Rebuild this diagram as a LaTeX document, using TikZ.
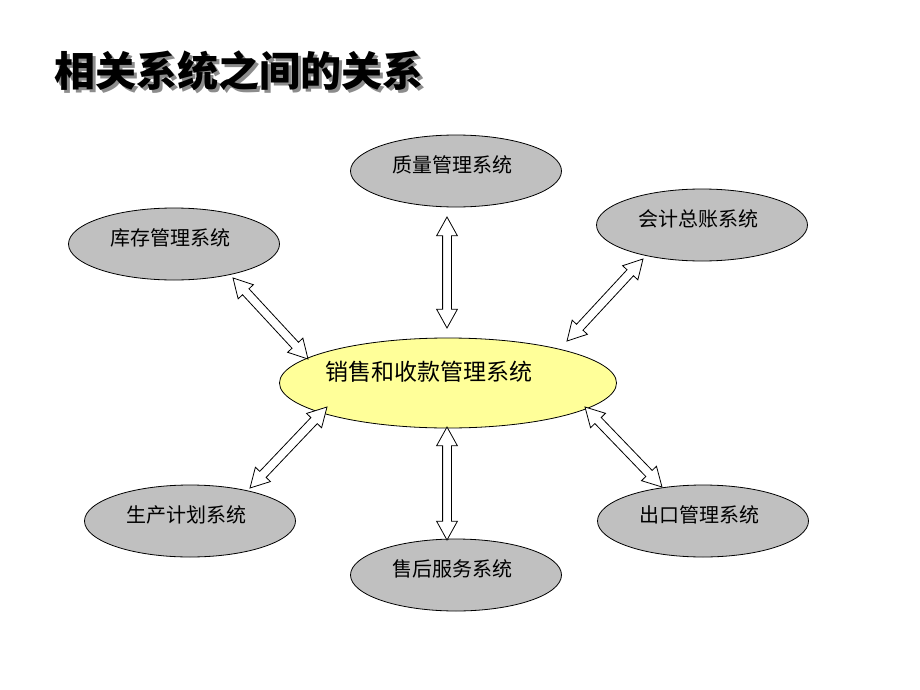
\documentclass[tikz,border=0pt]{standalone}
\usepackage{fontspec}
\newfontfamily\cjk{Noto Sans CJK SC}
\usetikzlibrary{shapes.geometric,shapes.arrows,calc}
\definecolor{sysgray}{RGB}{192,192,192}
\definecolor{sysyellow}{RGB}{255,255,153}
\tikzset{
  sys/.style={ellipse,draw,line width=.8pt,fill=sysgray,inner sep=0pt,
    minimum width=211pt,minimum height=72pt,
    label={[font=\cjk\fontsize{20pt}{24pt}\selectfont,xshift=-4pt,yshift=6pt]center:#1}},
  link/.style={double arrow,draw,line width=.8pt,fill=white,inner sep=0pt,
    inner ysep=4pt,minimum width=20pt,double arrow head extend=6pt,
    double arrow tip angle=58},
  headline/.style={anchor=west,inner sep=0pt,
    font=\cjk\bfseries\fontsize{41pt}{48pt}\selectfont}
}
\begin{document}
\begin{tikzpicture}[x=1pt,y=-1pt]
\useasboundingbox (0,0) rectangle (920,690);
% title
\node[headline,text=black!45] (shade) at (57,74) {相关系统之间的关系};
\node[headline] (title) at (54,71) {相关系统之间的关系};
% systems
\node[sys=质量管理系统] (zl) at (456,171) {};
\node[sys=库存管理系统] (kc) at (174,244) {};
\node[sys=会计总账系统] (kj) at (702,225) {};
\node[sys=生产计划系统] (sc) at (190,521) {};
\node[sys=售后服务系统] (sh) at (456,575) {};
\node[sys=出口管理系统] (ck) at (703,521) {};
\node[ellipse,draw,line width=.8pt,fill=sysyellow,inner sep=0pt,
  minimum width=337pt,minimum height=90pt,
  label={[font=\cjk\fontsize{23pt}{27pt}\selectfont,xshift=-19pt,yshift=11pt]center:销售和收款管理系统}]
  (xs) at (448,383) {};
% arrow ends
\coordinate (zl-a) at (447,217);  \coordinate (xs-zl) at (447,328);
\coordinate (kc-a) at (233,278);  \coordinate (xs-kc) at (308,359);
\coordinate (kj-a) at (643,259);  \coordinate (xs-kj) at (567,341);
\coordinate (sc-a) at (250,488);  \coordinate (xs-sc) at (327,407);
\coordinate (sh-a) at (447,540);  \coordinate (xs-sh) at (447,427);
\coordinate (ck-a) at (662,487);  \coordinate (xs-ck) at (585,407);
% links
\foreach \a/\b in {zl-a/xs-zl,kc-a/xs-kc,kj-a/xs-kj,sc-a/xs-sc,sh-a/xs-sh,ck-a/xs-ck}
  \path let \p1=($(\b)-(\a)$), \n1={veclen(\x1,\y1)}, \n2={atan2(\y1,\x1)} in
    node[link,minimum height=\n1,rotate=\n2] (\a-\b) at ($(\a)!.5!(\b)$) {};
\end{tikzpicture}
\end{document}
